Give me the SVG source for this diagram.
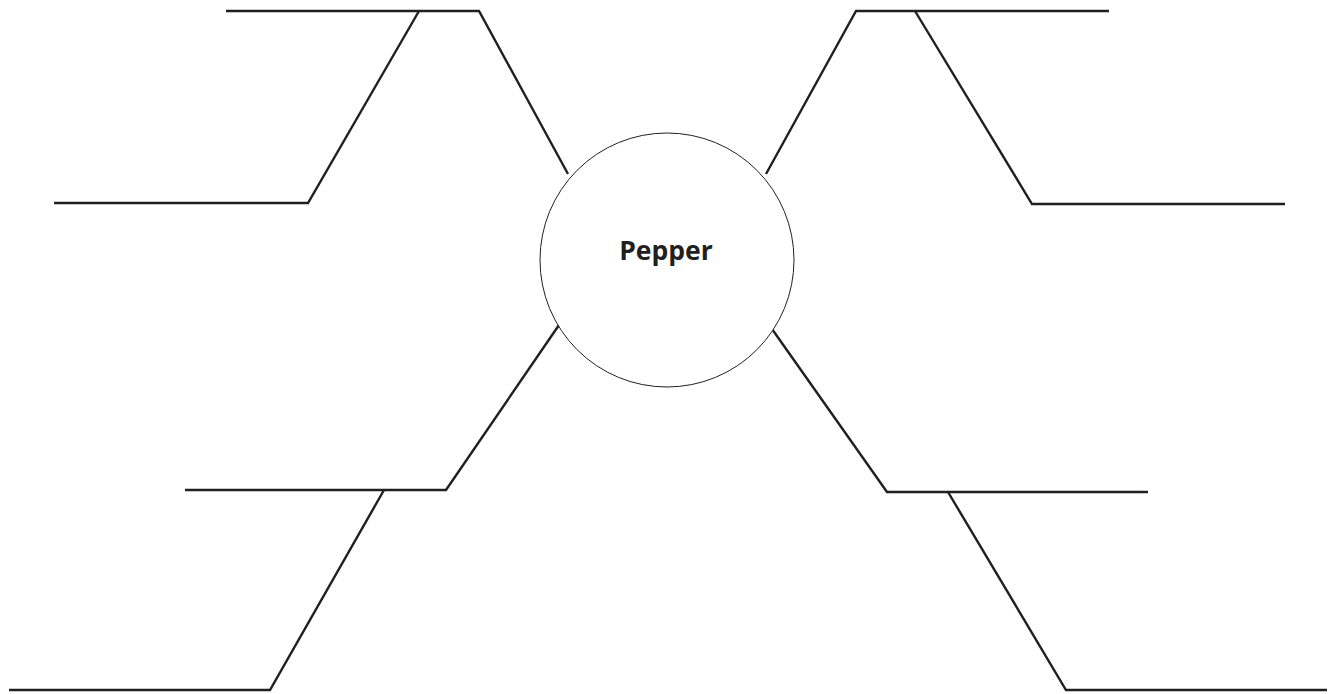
<svg xmlns="http://www.w3.org/2000/svg" width="1335" height="694" viewBox="0 0 1335 694">
<style>
.ln{fill:none;stroke:#231f20;stroke-width:2.4;stroke-linejoin:miter;stroke-linecap:butt}
.node{fill:#fff;stroke:#231f20;stroke-width:1}
.lbl{font-family:"Open Sans","Noto Sans",sans-serif;font-weight:bold;font-size:26.5px;fill:#231f20}
</style>
<rect width="1335" height="694" fill="#fff"/>
<g id="connectors">
<polyline class="ln" points="568,174 479,11 226,11"/>
<polyline class="ln" points="419,11 308,203 54,203"/>
<polyline class="ln" points="766,174 856,11 1109,11"/>
<polyline class="ln" points="915,11 1032,204 1285,204"/>
<polyline class="ln" points="559,325 446,490 185,490"/>
<polyline class="ln" points="384,490 270,690 9,690"/>
<polyline class="ln" points="772,329 887,492 1148,492"/>
<polyline class="ln" points="948,492 1066,690 1327,690"/>
</g>
<g id="pepper">
<circle class="node" cx="667" cy="260" r="127"/>
<text class="lbl" x="666" y="260" text-anchor="middle">Pepper</text>
</g>
</svg>
